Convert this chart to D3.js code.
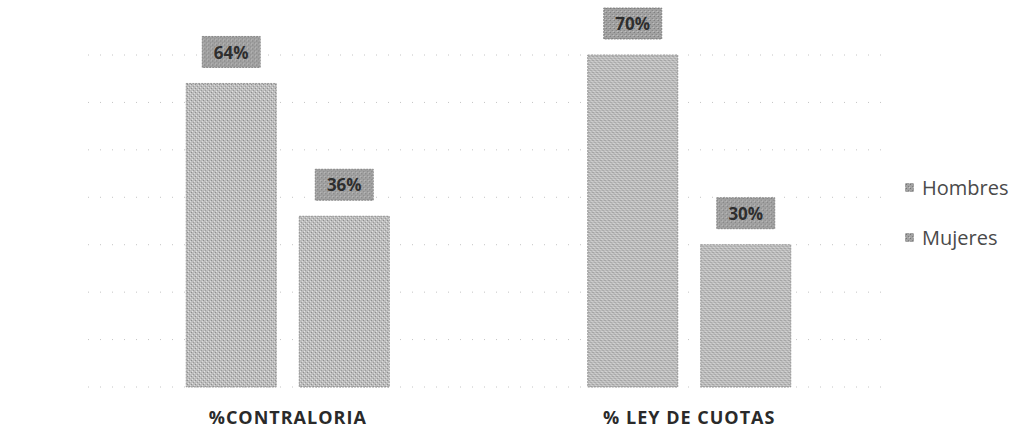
<!DOCTYPE html>
<html>
<head>
<meta charset="utf-8">
<script src="https://cdnjs.cloudflare.com/ajax/libs/d3/7.8.5/d3.min.js"></script>
<style>
  body { margin: 0; background: #fff; }
  text { font-family: "Open Sans", "DejaVu Sans", sans-serif; }
</style>
</head>
<body>
<div id="main"></div>
<script>
var categories = ["%CONTRALORIA", "% LEY DE CUOTAS"];
var seriesNames = ["Hombres", "Mujeres"];
var hombres = [64, 70];
var mujeres = [36, 30];
var gridTicks = [0, 10, 20, 30, 40, 50, 60, 70];

var width = 1015, height = 429;
var svg = d3.select("#main").append("svg")
  .attr("width", width).attr("height", height);

// grainy gray fill, like the scanned original
var defs = svg.append("defs");
var pat = defs.append("pattern").attr("id", "grain")
  .attr("width", 4).attr("height", 4).attr("patternUnits", "userSpaceOnUse");
pat.append("rect").attr("width", 4).attr("height", 4).attr("fill", "#bcbcbc");
pat.append("rect").attr("x", 0).attr("y", 0).attr("width", 1).attr("height", 1).attr("fill", "#8e8e8e");
pat.append("rect").attr("x", 2).attr("y", 2).attr("width", 1).attr("height", 1).attr("fill", "#9a9a9a");
pat.append("rect").attr("x", 3).attr("y", 1).attr("width", 1).attr("height", 1).attr("fill", "#dcdcdc");
pat.append("rect").attr("x", 1).attr("y", 3).attr("width", 1).attr("height", 1).attr("fill", "#e2e2e2");
var pat2 = defs.append("pattern").attr("id", "grainDark")
  .attr("width", 4).attr("height", 4).attr("patternUnits", "userSpaceOnUse");
pat2.append("rect").attr("width", 4).attr("height", 4).attr("fill", "#a2a2a2");
pat2.append("rect").attr("x", 1).attr("y", 0).attr("width", 1).attr("height", 1).attr("fill", "#747474");
pat2.append("rect").attr("x", 3).attr("y", 2).attr("width", 1).attr("height", 1).attr("fill", "#808080");
pat2.append("rect").attr("x", 0).attr("y", 3).attr("width", 1).attr("height", 1).attr("fill", "#c8c8c8");

var x0 = d3.scaleBand().domain(categories).range([87, 890]).paddingInner(0).paddingOuter(0);
var x1 = d3.scaleBand().domain(seriesNames).range([0, x0.bandwidth()]).paddingInner(0.2035).paddingOuter(0.878);
var y = d3.scaleLinear().domain([0, 70]).range([387, 55]);

var grid = svg.append("g");
gridTicks.forEach(function (t) {
  grid.append("line")
    .attr("x1", 88).attr("x2", 890)
    .attr("y1", y(t)).attr("y2", y(t))
    .attr("stroke", "#c4c4c4").attr("stroke-width", 1)
    .attr("stroke-dasharray", "1,11");
});

var rows = categories.map(function (c, i) {
  return [{ cat: c, s: "Hombres", v: hombres[i] }, { cat: c, s: "Mujeres", v: mujeres[i] }];
});

var groups = svg.selectAll(".grp").data(rows).enter().append("g")
  .attr("transform", function (d) { return "translate(" + x0(d[0].cat) + ",0)"; });

groups.selectAll("rect.bar").data(function (d) { return d; }).enter().append("rect")
  .attr("class", "bar")
  .attr("x", function (d) { return x1(d.s); })
  .attr("y", function (d) { return y(d.v); })
  .attr("width", x1.bandwidth())
  .attr("height", function (d) { return y(0) - y(d.v); })
  .attr("fill", "url(#grain)")
  .attr("stroke", "#888").attr("stroke-width", 0.8).attr("stroke-dasharray", "2,1");

var lbl = groups.selectAll("g.lbl").data(function (d) { return d; }).enter().append("g")
  .attr("class", "lbl")
  .attr("transform", function (d) {
    return "translate(" + (x1(d.s) + x1.bandwidth() / 2) + "," + (y(d.v) - 31) + ")";
  });
lbl.append("rect")
  .attr("x", -29).attr("y", -16).attr("width", 58).attr("height", 31)
  .attr("fill", "url(#grainDark)")
  .attr("stroke", "#777").attr("stroke-width", 0.8).attr("stroke-dasharray", "2,1");
lbl.append("text")
  .attr("text-anchor", "middle").attr("dy", "0.36em")
  .style("font-size", "17px").style("font-weight", "bold").attr("fill", "#2e2e2e")
  .text(function (d) { return d.v + "%"; });

svg.selectAll(".cat").data(categories).enter().append("text")
  .attr("x", function (d) { return x0(d) + x0.bandwidth() / 2; })
  .attr("y", 424)
  .attr("text-anchor", "middle")
  .style("font-size", "18px").style("font-weight", "bold").style("letter-spacing", "1px")
  .attr("fill", "#2a2a2a")
  .text(function (d) { return d; });

var legend = svg.selectAll(".leg").data(seriesNames).enter().append("g")
  .attr("transform", function (d, i) { return "translate(905," + (188 + i * 50) + ")"; });
legend.append("rect")
  .attr("x", 0).attr("y", -5).attr("width", 9).attr("height", 9)
  .attr("fill", "url(#grainDark)");
legend.append("text")
  .attr("x", 17).attr("dy", "0.35em")
  .style("font-size", "20px").attr("fill", "#4a4a4a")
  .text(function (d) { return d; });
</script>
</body>
</html>
